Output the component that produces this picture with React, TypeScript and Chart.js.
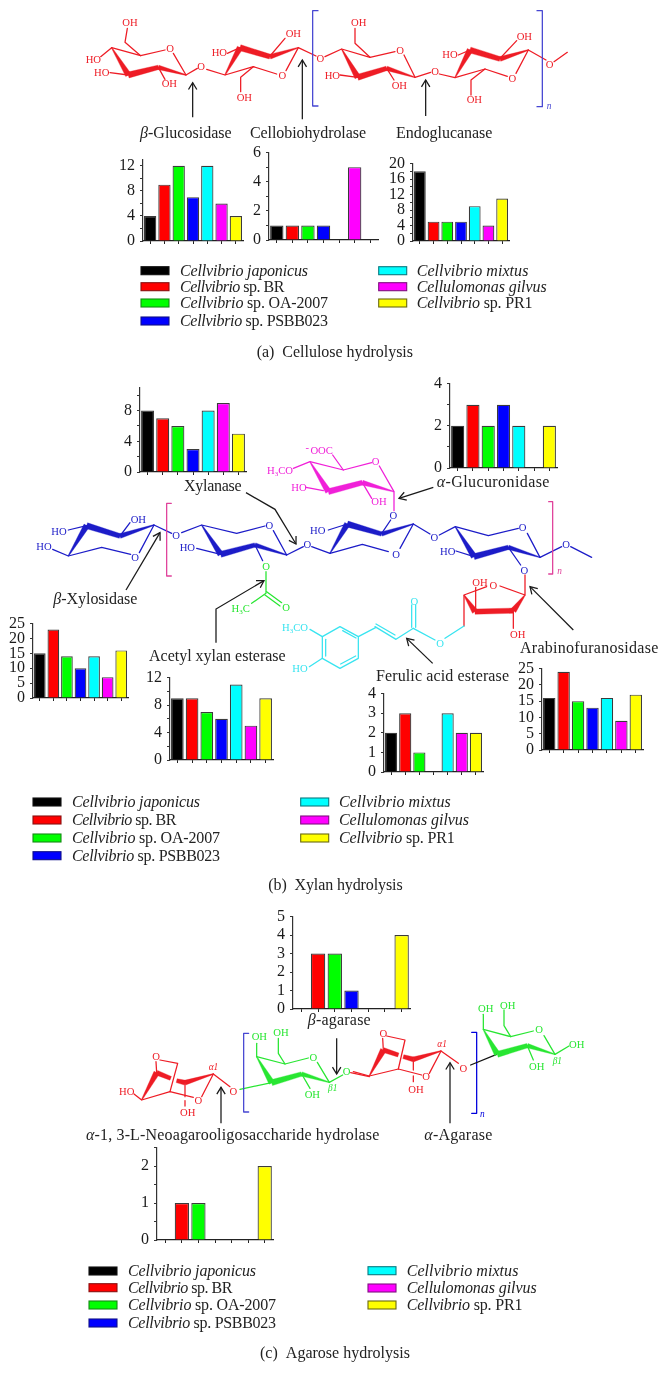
import React, { useEffect, useRef } from "react";
import { Chart, registerables } from "chart.js";
Chart.register(...registerables);

// ---------- data ----------
const speciesPrefix = ["Cellvibrio japonicus", "Cellvibrio", "Cellvibrio", "Cellvibrio", "Cellvibrio mixtus", "Cellulomonas gilvus", "Cellvibrio"];
const speciesSuffix = ["", " sp. BR", " sp. OA-2007", " sp. PSBB023", "", "", " sp. PR1"];
const categories = speciesPrefix.map((p, i) => p + speciesSuffix[i]);
const barColors = ["#000000", "#ff0000", "#00ff00", "#0000ff", "#00ffff", "#ff00ff", "#ffff00"];

const betaGlucosidase = [4, 9, 12, 7, 12, 6, 4];
const cellobiohydrolase = [1, 1, 1, 1, 0, 5, 0];
const endoglucanase = [18, 5, 5, 5, 9, 4, 11];
const xylanase = [8, 7, 6, 3, 8, 9, 5];
const alphaGlucuronidase = [2, 3, 2, 3, 2, 0, 2];
const betaXylosidase = [15, 23, 14, 10, 14, 7, 16];
const acetylXylanEsterase = [9, 9, 7, 6, 11, 5, 9];
const ferulicAcidEsterase = [2, 3, 1, 0, 3, 2, 2];
const arabinofuranosidase = [16, 24, 15, 13, 16, 9, 17];
const betaAgarase = [0, 3, 3, 1, 0, 0, 4];
const neoagarooligoHydrolase = [0, 1, 1, 0, 0, 0, 2];

// left, top, right, bottom, axis max, label step, tick step
const panels: [number[], number[]][] = [
  [betaGlucosidase, [143, 159, 243, 241, 13, 4, 2]],
  [cellobiohydrolase, [269, 152, 378, 240, 6, 2, 1]],
  [endoglucanase, [413, 163, 509, 241, 20, 4, 2]],
  [xylanase, [140, 387, 246, 472, 11, 4, 2]],
  [alphaGlucuronidase, [450, 383, 557, 468, 4, 2, 1]],
  [betaXylosidase, [33, 623, 128, 698, 25, 5, 5]],
  [acetylXylanEsterase, [170, 677, 273, 760, 12, 4, 2]],
  [ferulicAcidEsterase, [384, 693, 483, 772, 4, 1, 1]],
  [arabinofuranosidase, [542, 668, 643, 750, 25, 5, 5]],
  [betaAgarase, [293, 916, 410, 1009, 5, 1, 1]],
  [neoagarooligoHydrolase, [157, 1147, 273, 1240, 2.5, 1, 0.5]],
];

const PADL = 30, PADT = 14, PADR = 6, PADB = 16;
const SERIF = '"Liberation Serif", serif';

function BarPanel({ values, box }: { values: number[]; box: number[] }) {
  const ref = useRef<HTMLCanvasElement>(null);
  const [l, t, r, b, max, labelStep, tickStep] = box;
  useEffect(() => {
    const chart = new Chart(ref.current!, {
      type: "bar",
      data: {
        labels: categories,
        datasets: [{
          data: values,
          backgroundColor: barColors,
          borderColor: "rgba(25,25,25,0.85)",
          borderWidth: 1.2,
          barPercentage: 0.86,
          categoryPercentage: 1,
        }],
      },
      options: {
        animation: false,
        responsive: false,
        devicePixelRatio: 1,
        layout: { padding: { left: 0, top: PADT, right: PADR, bottom: 0 } },
        plugins: { legend: { display: false }, tooltip: { enabled: false } },
        scales: {
          x: {
            type: "category",
            offset: true,
            afterFit: (s: any) => { s.height = PADB; },
            ticks: { display: false, autoSkip: false },
            border: { color: "#222", width: 1.2 },
            grid: { offset: false, drawOnChartArea: false, drawTicks: true, tickLength: 3, color: "#222", lineWidth: 1 },
          },
          y: {
            min: 0,
            max,
            afterFit: (s: any) => { s.width = PADL; },
            border: { color: "#333", width: 1.2 },
            grid: { drawOnChartArea: false, drawTicks: true, tickLength: 3, color: "#333", lineWidth: 1 },
            ticks: {
              stepSize: tickStep,
              includeBounds: false,
              autoSkip: false,
              padding: 5,
              color: "#1a1a1a",
              font: { family: SERIF, size: 16 },
              callback: (v: any) => (Number(v) % labelStep === 0 ? String(v) : ""),
            },
          },
        },
      } as any,
    });
    return () => chart.destroy();
  }, []);
  return (
    <canvas
      ref={ref}
      width={r - l + PADL + PADR}
      height={b - t + PADT + PADB}
      style={{ position: "absolute", left: l - PADL, top: t - PADT, width: r - l + PADL + PADR, height: b - t + PADT + PADB }}
    />
  );
}

// ---------- text ----------
type Piece = [string, boolean?];
function Tx({ x, y, w, p, size = 16 }: { x: number; y: number; w: number; p: Piece[]; size?: number }) {
  return (
    <text x={x} y={y} textLength={w} fontFamily={SERIF} fontSize={size} fill="#222" xmlSpace="preserve">
      {p.map(([s, it], i) => <tspan key={i} fontStyle={it ? "italic" : "normal"}>{s}</tspan>)}
    </text>
  );
}
const enzymeLabels: [number, number, number, Piece[]][] = [
  [140, 137.7, 91.7, [["β", true], ["-Glucosidase"]]],
  [250, 138.3, 116, [["Cellobiohydrolase"]]],
  [396, 137.7, 96.3, [["Endoglucanase"]]],
  [184, 490.7, 57.7, [["Xylanase"]]],
  [436.7, 486.7, 112.7, [["α", true], ["-Glucuronidase"]]],
  [53.3, 604, 84, [["β", true], ["-Xylosidase"]]],
  [149, 661, 136.7, [["Acetyl xylan esterase"]]],
  [376, 681, 133, [["Ferulic acid esterase"]]],
  [520, 652.7, 138.3, [["Arabinofuranosidase"]]],
  [307.7, 1025, 63, [["β", true], ["-agarase"]]],
  [86, 1140, 293.3, [["α", true], ["-1, 3-L-Neoagarooligosaccharide hydrolase"]]],
  [424.3, 1140, 68, [["α", true], ["-Agarase"]]],
  [256.7, 356.7, 156.3, [["(a)\u00a0\u00a0Cellulose hydrolysis"]]],
  [268.3, 890, 134.4, [["(b)\u00a0\u00a0Xylan hydrolysis"]]],
  [260, 1358, 150, [["(c)\u00a0\u00a0Agarose hydrolysis"]]],
];

const legendWidths = [128, 104.3, 148, 148, 111.7, 130, 115.7];
const legends = [
  { sx: [141, 378.7], tx: [180, 416.7], rows: [270.7, 286.7, 303, 321], rows2: [270.7, 286.7, 303] },
  { sx: [33, 300.7], tx: [72, 339], rows: [802, 820, 838, 855.7], rows2: [802, 820, 838] },
  { sx: [89, 368], tx: [128, 406.7], rows: [1271, 1287.7, 1305, 1323], rows2: [1270.7, 1288, 1305] },
];
const swatchEdges = ["#111", "#8a1010", "#158a15", "#10108a", "#0a7a80", "#801080", "#6a6a10"];

function Legends() {
  const out: any[] = [];
  legends.forEach((g, gi) => {
    categories.forEach((_, i) => {
      const col = i < 4 ? 0 : 1;
      const cy = col === 0 ? g.rows[i] : g.rows2[i - 4];
      out.push(<rect key={`s${gi}${i}`} x={g.sx[col]} y={cy - 4} width={28} height={8} fill={barColors[i]} stroke={swatchEdges[i]} strokeWidth={1.1} />);
      const p: Piece[] = [[speciesPrefix[i], true]];
      if (speciesSuffix[i]) p.push([speciesSuffix[i]]);
      out.push(<Tx key={`t${gi}${i}`} x={g.tx[col]} y={cy + 5} w={legendWidths[i]} p={p} />);
    });
  });
  return <>{out}</>;
}

// ---------- chemical structures (drawn in the 3x crop coordinates of their origin) ----------
const RED = "#ee1c25", BLUE = "#1c1cc8", BBLUE = "#4646d2", PINK = "#e0409a", MAG = "#f020d8", GRN = "#28e632", CYAN = "#38e4f0";
type Spec = { o: [number, number]; c: string; l?: number[][]; w?: number[][]; t?: [number, number, string][] };
const structures: Spec[] = [
  // (a) cellulose
  { o: [90, 0], c: RED,
    w: [[65,143,115,225,2,15],[115,225,205,202,15,11],[205,202,288,225,11,2],[405,225,450,143,2,15],[450,143,540,170,15,12],[540,170,625,143,12,2],
        [755,147,803,232,2,15],[803,232,890,205,15,11],[890,205,975,232,11,2],[1095,233,1140,150,2,15],[1140,150,1230,177,15,12],[1230,177,1315,150,12,2]],
    l: [[65,143,152,167,225,150],[250,160,288,225],[152,167,105,127,112,85],[65,143,32,170],[115,225,60,218],[205,202,225,238],[288,225,322,205],[350,208,405,225,490,200,560,222],[625,143,588,212],[450,143,412,160],[540,168,585,115],[490,200,452,232,452,275],[625,143,678,168],
        [705,170,755,147,840,172,915,155],[942,165,975,232],[840,172,795,130,795,85],[803,232,750,225],[890,205,912,240],[975,232,1022,217],[1048,222,1095,233,1185,207,1252,229],[1315,150,1278,220],[1140,150,1105,165],[1230,175,1280,122],[1185,207,1143,240,1143,285],[1315,150,1368,180],[1392,185,1432,157]],
    t: [[120,66,"OH"],[10,177,"HO"],[35,218,"HO"],[238,251,"OH"],[240,145,"O"],[333,200,"O"],[388,158,"HO"],[610,101,"OH"],[577,226,"O"],[463,291,"OH"],[691,176,"O"],[806,67,"OH"],[930,152,"O"],[727,226,"HO"],[928,256,"OH"],[1035,215,"O"],[1080,162,"HO"],[1303,108,"OH"],[1267,234,"O"],[1153,297,"OH"],[1379,192,"O"]] },
  { o: [90, 0], c: BBLUE, l: [[684,32,668,32,668,318,684,318],[1341,32,1357,32,1357,320,1341,320]] },
  // (b) xylan
  { o: [0, 370], c: BLUE,
    w: [[205,558,260,467,2,15],[260,467,360,498,15,12],[360,498,462,465,12,2],[605,465,662,553,2,15],[662,553,765,525,15,11],[765,525,860,555,11,2],[990,550,1042,462,2,15],[1042,462,1145,492,15,11],[1145,492,1240,462,11,2],[1366,470,1422,560,2,15],[1422,560,1525,532,15,11],[1525,532,1620,562,11,2]],
    l: [[392,553,305,532,205,558,158,538],[462,465,418,548],[260,467,205,480],[360,498,390,458],[462,465,515,490],[545,488,605,465,710,490,795,468],[820,482,860,555],[662,553,590,535],[765,525,788,572],[860,555,910,530],[935,530,990,550,1087,523,1165,545],[1240,462,1200,535],[1042,462,985,480],[1172,450,1145,490],[1240,462,1290,492],[1318,495,1366,470,1465,497,1555,475],[1582,490,1620,562],[1422,560,1368,543],[1525,532,1562,585],[1620,562,1685,530],[1712,530,1775,562]],
    t: [[177,485,"HO"],[132,530,"HO"],[415,449,"OH"],[405,562,"O"],[528,496,"O"],[562,533,"HO"],[808,465,"O"],[922,523,"O"],[953,480,"HO"],[1180,437,"O"],[1188,552,"O"],[1303,502,"O"],[1343,543,"HO"],[1568,472,"O"],[1573,600,"O"],[1698,523,"O"]] },
  { o: [0, 370], c: PINK, l: [[514,400,500,400,500,618,514,618],[1646,395,1658,395,1658,612,1646,612]] },
  { o: [0, 370], c: GRN,
    l: [[798,605,798,670,755,700],[800,665,845,698],[795,675,840,708]],
    t: [[798,590,"O"],[858,712,"O"],[722,714,"H₃C"]] },
  { o: [0, 370], c: MAG,
    w: [[930,275,985,365,2,15],[985,365,1087,338,15,12],[1087,338,1182,365,12,2]],
    l: [[880,295,930,275,1030,300,1115,278],[1138,288,1182,365,1182,422],[1030,300,998,255],[918,352,970,362],[1087,338,1115,385]],
    t: [[840,302,"H₃CO"],[965,240,"OOC"],[922,232,"-"],[897,352,"HO"],[1127,275,"O"],[1137,395,"OH"]] },
  { o: [330, 370], c: RED,
    w: [[585,675,550,722,2,15],[550,722,435,725,13,13],[435,725,402,675,15,2]],
    l: [[585,615,585,675,510,648],[470,650,402,675,402,768],[437,652,437,725],[550,722,550,775]],
    t: [[450,638,"OH"],[490,645,"O"],[563,793,"OH"]] },
  { o: [330, 370], c: CYAN,
    l: [[402,768,345,805],[315,810,250,775],[245,705,245,772],[257,705,257,772],[250,775,198,808,135,770],[195,795,138,762]],
    t: [[253,693,"O"],[330,820,"O"]] },
  { o: [270, 600], c: CYAN,
    l: [[318,82,265,110,265,175,210,205,157,175,157,110,210,80,265,110],[218,92,258,114],[167,118,167,168],[212,192,257,168],[157,110,120,88],[157,175,118,200]],
    t: [[75,82,"H₃CO"],[90,205,"HO"]] },
  // (c) agarose
  { o: [80, 900], c: RED,
    w: [[185,600,230,518,2,15],[230,518,272,535,12,10],[290,542,315,548,10,12],[315,548,400,522,12,2]],
    l: [[400,522,365,590],[340,592,270,575,185,600,162,582],[230,518,228,485],[240,480,293,490,270,575],[315,550,315,590],[315,602,315,618],[400,522,450,560],[812,518,868,530]],
    t: [[228,470,"O"],[355,600,"O"],[140,573,"HO"],[323,637,"OH"],[460,573,"O"]] },
  { o: [80, 900], c: GRN,
    w: [[530,470,575,548,2,15],[575,548,665,522,15,11],[665,522,748,547,11,2]],
    l: [[480,568,575,548],[530,470,615,492,685,474],[712,487,748,547],[530,470,530,430],[615,492,595,460,595,415],[665,522,690,565],[748,547,788,525]],
    t: [[538,410,"OH"],[603,398,"OH"],[700,472,"O"],[697,583,"OH"],[800,515,"O"]] },
  { o: [80, 900], c: BBLUE, l: [[506,400,491,400,491,636,506,636]] },
  { o: [340, 1020], c: RED,
    w: [[88,168,130,90,2,15],[130,90,175,105,12,10],[190,110,220,118,10,12],[220,118,303,93,12,2]],
    l: [[303,93,268,160],[245,165,175,147,88,168,40,155],[130,90,128,55],[140,48,195,60,175,147],[220,120,220,150],[220,168,220,185],[303,93,355,130]],
    t: [[130,40,"O"],[258,170,"O"],[228,208,"OH"],[370,145,"O"]] },
  { o: [340, 1020], c: "#0000dd", l: [[395,37,410,37,410,280,395,280]] },
  { o: [340, 1020], c: "#111", l: [[392,135,470,103]] },
  { o: [470, 985], c: GRN,
    w: [[40,133,82,208,2,15],[82,208,172,182,15,11],[172,182,255,208,11,2]],
    l: [[40,133,122,155,190,138],[222,152,255,208],[40,133,40,88],[122,155,102,122,102,75],[172,182,190,225],[255,208,297,183]],
    t: [[47,70,"OH"],[113,60,"OH"],[207,133,"O"],[200,243,"OH"],[320,178,"OH"]] },
];
const italicMarks: [number, number, number, string, string, string][] = [
  [90, 0, 0, "1370,328", BBLUE, "n"],
  [0, 370, 0, "1672,613", PINK, "n"],
  [80, 900, 1, "386,510", RED, "α1"],
  [80, 900, 1, "744,574", GRN, "β1"],
  [340, 1020, 1, "292,80", RED, "α1"],
  [340, 1020, 0, "420,290", "#0000dd", "n"],
  [470, 985, 1, "248,236", GRN, "β1"],
];
const arrows: [number, number, number[]][] = [
  [90, 0, [308,352,308,248]],
  [90, 0, [637,358,637,180]],
  [90, 0, [1007,348,1007,240]],
  [0, 370, [738,368,825,418,888,522]],
  [0, 370, [378,660,480,488]],
  [0, 370, [648,818,648,717,792,632]],
  [330, 370, [310,352,207,385]],
  [330, 370, [730,780,600,650]],
  [270, 600, [488,190,410,115]],
  [80, 900, [770,415,770,522]],
  [80, 900, [423,670,423,562]],
  [340, 1020, [330,310,330,128]],
];

const tf = (o: [number, number] | number[]) => `translate(${o[0]},${o[1]}) scale(${1 / 3})`;
const wedge = ([x1, y1, x2, y2, a0, b0]: number[]) => {
  const a = a0 * 1.2, b = b0 * 1.2;
  const d = Math.hypot(x2 - x1, y2 - y1), nx = -(y2 - y1) / d, ny = (x2 - x1) / d;
  return [x1 + nx * a / 2, y1 + ny * a / 2, x2 + nx * b / 2, y2 + ny * b / 2, x2 - nx * b / 2, y2 - ny * b / 2, x1 - nx * a / 2, y1 - ny * a / 2].join(",");
};
function AtomLabel({ x, y, s, c }: { x: number; y: number; s: string; c: string }) {
  const m = s.split("₃");
  return (
    <text x={x} y={y + 11} textAnchor="middle" fontFamily={SERIF} fontSize={32} fill={c}>
      {m.length === 1 ? s : (<>{m[0]}<tspan fontSize={21} dy={6}>3</tspan><tspan dy={-6}>{m[1]}</tspan></>)}
    </text>
  );
}
function Structures() {
  return (
    <>
      {structures.map((g, i) => (
        <g key={i} transform={tf(g.o)}>
          {(g.w || []).map((w, j) => <polygon key={j} points={wedge(w)} fill={g.c} stroke={g.c} strokeWidth={1} strokeLinejoin="round" />)}
          {(g.l || []).map((l, j) => <polyline key={j} points={l.join(",")} fill="none" stroke={g.c} strokeWidth={3.8} strokeLinecap="round" strokeLinejoin="round" />)}
          {(g.t || []).map(([x, y, s], j) => <AtomLabel key={j} x={x} y={y} s={s} c={g.c} />)}
        </g>
      ))}
      {italicMarks.map(([ox, oy, _m, pos, c, s], i) => {
        const [x, y] = pos.split(",").map(Number);
        return <text key={i} transform={tf([ox, oy])} x={x} y={y} fontFamily={SERIF} fontStyle="italic" fontSize={28} fill={c} textAnchor="start">{s}</text>;
      })}
      {arrows.map(([ox, oy, p], i) => {
        const n = p.length, ax = p[n - 2], ay = p[n - 1], a = Math.atan2(ay - p[n - 3], ax - p[n - 4]);
        const h = 24, s = 0.55;
        const head = [ax - h * Math.cos(a - s), ay - h * Math.sin(a - s), ax, ay, ax - h * Math.cos(a + s), ay - h * Math.sin(a + s)];
        return (
          <g key={i} transform={tf([ox, oy])} fill="none" stroke="#1a1a1a" strokeWidth={3.8}>
            <polyline points={p.join(",")} />
            <polyline points={head.join(",")} />
          </g>
        );
      })}
    </>
  );
}

export default function App() {
  return (
    <div style={{ position: "absolute", left: 0, top: 0, width: 668, height: 1387, background: "#fff", overflow: "hidden" }}>
      {panels.map(([values, box], i) => <BarPanel key={i} values={values} box={box} />)}
      <svg width={668} height={1387} style={{ position: "absolute", left: 0, top: 0, pointerEvents: "none" }}>
        <Structures />
        {enzymeLabels.map(([x, y, w, p], i) => <Tx key={i} x={x} y={y} w={w} p={p} />)}
        <Legends />
      </svg>
    </div>
  );
}
